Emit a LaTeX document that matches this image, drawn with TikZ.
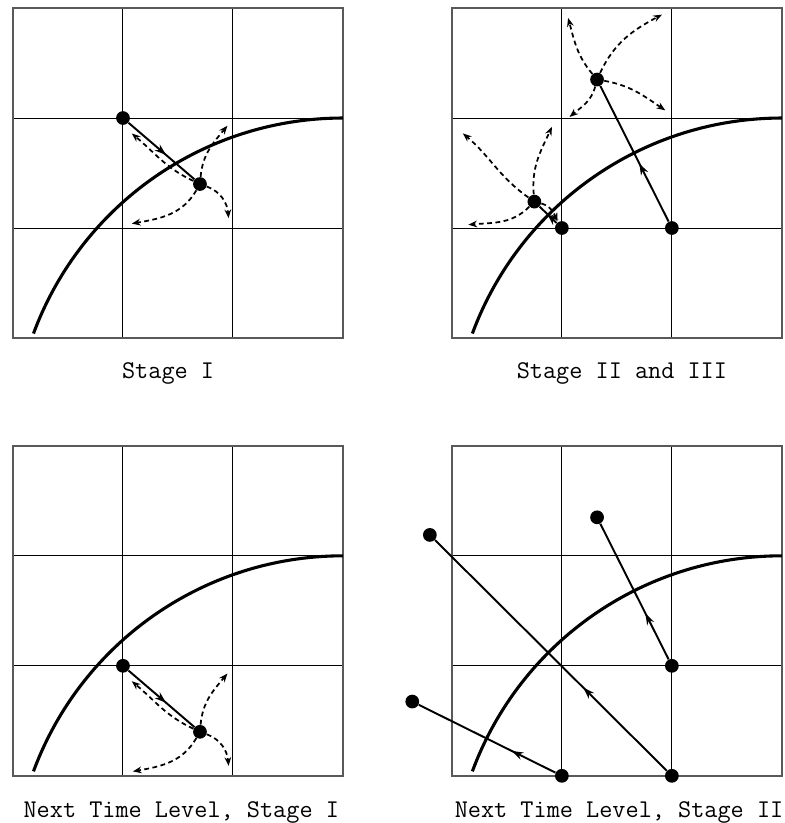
\documentclass[tikz,border=0pt]{standalone}
\usepackage{fontspec}
\usetikzlibrary{arrows.meta,decorations.markings}
\tikzset{
  gridline/.style={line width=0.5pt},
  frameline/.style={line width=0.8pt, black!65},
  bigarc/.style={line width=1.6pt},
  dot/.style={circle, fill, inner sep=0pt, minimum size=0.25cm},
  solidarr/.style={line width=1pt, postaction={decorate},
    decoration={markings, mark=at position #1 with {\arrow{Stealth[length=6pt,width=4pt]}}}},
  solidarr/.default=0.5,
  dasharr/.style={line width=0.9pt, dash pattern=on 2.5pt off 1.8pt,
    -{Stealth[length=4.5pt,width=3.5pt]}},
  lbl/.style={font=\ttfamily\fontsize{13.2}{15}\selectfont, anchor=base, inner sep=0pt},
  panel/.pic={
    \foreach \t in {1,2} {
      \draw[gridline] (\t,0) -- (\t,3);
      \draw[gridline] (0,\t) -- (3,\t);
    }
    \draw[frameline] (0,0) rectangle (3,3);
    \draw[bigarc] (3,2) arc[start angle=90, end angle=159.7, radius=6cm];
  }
}
\begin{document}
\begin{tikzpicture}[x=2cm,y=2cm]
\useasboundingbox (-0.118,-4.409) rectangle (7.018,3.073);

% ---------- Top-left: Stage I ----------
\begin{scope}[shift={(0,0)}]
  \pic {panel};
  \node[dot] (a1) at (1,2) {};
  \node[dot] (b1) at (1.7,1.4) {};
  \coordinate (a1ul) at (1.08,1.86);
  \coordinate (a1ur) at (1.95,1.93);
  \coordinate (a1ll) at (1.08,1.04);
  \coordinate (a1lr) at (1.96,1.09);
  \draw[solidarr=0.57] (a1) -- (b1);
  \draw[dasharr] (b1) to[out=155,in=-40] (a1ul);
  \draw[dasharr] (b1) to[out=85,in=230] (a1ur);
  \draw[dasharr] (b1) to[out=240,in=10] (a1ll);
  \draw[dasharr] (b1) to[out=-20,in=95] (a1lr);
\end{scope}
\node[lbl] (l1) at (1.41,-0.364) {Stage I};

% ---------- Top-right: Stage II and III ----------
\begin{scope}[shift={(3.99,0)}]
  \pic {panel};
  \node[dot] (c2) at (1,1) {};
  \node[dot] (d2) at (2,1) {};
  \node[dot] (e2) at (0.75,1.24) {};
  \node[dot] (f2) at (1.32,2.35) {};
  \draw[solidarr=0.43] (d2) -- (f2);
  \draw[solidarr=0.55] (c2) -- (e2);
  \coordinate (f2ul) at (1.057,2.91);
  \coordinate (f2ur) at (1.91,2.94);
  \coordinate (f2lr) at (1.94,2.07);
  \coordinate (f2ll) at (1.07,2.01);
  \draw[dasharr] (f2) to[out=130,in=-75] (f2ul);
  \draw[dasharr] (f2) to[out=65,in=208] (f2ur);
  \draw[dasharr] (f2) to[out=-10,in=146] (f2lr);
  \draw[dasharr] (f2) to[out=255,in=40] (f2ll);
  \coordinate (e2ul) at (0.10,1.86);
  \coordinate (e2ur) at (0.91,1.92);
  \coordinate (e2ll) at (0.15,1.03);
  \coordinate (e2lr) at (0.96,1.06);
  \draw[dasharr] (e2) to[out=145,in=-40] (e2ul);
  \draw[dasharr] (e2) to[out=95,in=245] (e2ur);
  \draw[dasharr] (e2) to[out=225,in=5] (e2ll);
  \draw[dasharr] (e2) to[out=-15,in=113] (e2lr);
\end{scope}
\node[lbl] (l2) at (5.536,-0.364) {Stage II and III};

% ---------- Bottom-left: Next Time Level, Stage I ----------
\begin{scope}[shift={(0,-3.98)}]
  \pic {panel};
  \node[dot] (a3) at (1,1) {};
  \node[dot] (b3) at (1.7,0.4) {};
  \coordinate (a3ul) at (1.08,0.86);
  \coordinate (a3ur) at (1.95,0.93);
  \coordinate (a3ll) at (1.09,0.04);
  \coordinate (a3lr) at (1.96,0.09);
  \draw[solidarr=0.57] (a3) -- (b3);
  \draw[dasharr] (b3) to[out=155,in=-40] (a3ul);
  \draw[dasharr] (b3) to[out=85,in=230] (a3ur);
  \draw[dasharr] (b3) to[out=240,in=10] (a3ll);
  \draw[dasharr] (b3) to[out=-20,in=95] (a3lr);
\end{scope}
\node[lbl] (l3) at (1.53,-4.355) {Next Time Level, Stage I};

% ---------- Bottom-right: Next Time Level, Stage II ----------
\begin{scope}[shift={(3.99,-3.98)}]
  \pic {panel};
  \node[dot] (g4) at (-0.2,2.19) {};
  \node[dot] (h4) at (1.32,2.35) {};
  \node[dot] (i4) at (2,1) {};
  \node[dot] (j4) at (-0.36,0.675) {};
  \node[dot] (k4) at (1,0) {};
  \node[dot] (m4) at (2,0) {};
  \draw[solidarr=0.36] (m4) -- (g4);
  \draw[solidarr=0.34] (i4) -- (h4);
  \draw[solidarr=0.32] (k4) -- (j4);
\end{scope}
\node[lbl] (l4) at (5.51,-4.355) {Next Time Level, Stage II};
\end{tikzpicture}
\end{document}
